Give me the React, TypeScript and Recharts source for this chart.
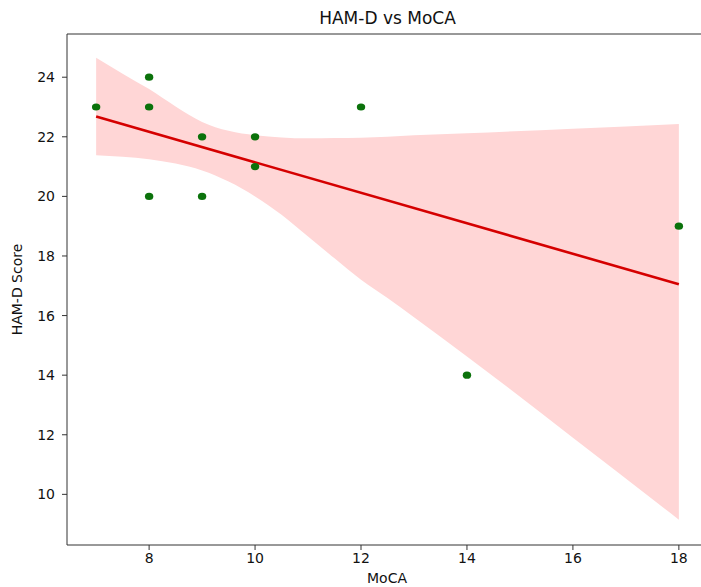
import React from "react";
import {
  ComposedChart,
  Area,
  Line,
  Scatter,
  XAxis,
  YAxis,
  ReferenceLine,
} from "recharts";

// Observed points (MoCA, HAM-D)
const mocaValues = [7, 8, 8, 8, 9, 9, 10, 10, 12, 14, 18];
const hamdValues = [23, 24, 23, 20, 22, 20, 22, 21, 23, 14, 19];

// Confidence band
const bandX = [7, 7.5, 8, 8.5, 9, 9.5, 10, 10.5, 11, 11.5, 12, 12.5, 13, 14, 16, 18];
const bandLower = [21.38, 21.33, 21.25, 21.1, 20.87, 20.5, 20.0, 19.38, 18.65, 17.92, 17.2, 16.59, 15.94, 14.63, 11.9, 9.15];
const bandUpper = [24.65, 24.12, 23.6, 23.02, 22.5, 22.2, 22.05, 21.98, 21.95, 21.96, 21.97, 22.0, 22.05, 22.12, 22.27, 22.43];

// Regression line endpoints
const fitX = [7, 18];
const fitY = [22.68, 17.05];

const xTicks = [8, 10, 12, 14, 16, 18];
const yTicks = [10, 12, 14, 16, 18, 20, 22, 24];

const xDomain: [number, number] = [6.45, 18.55];
const yDomain: [number, number] = [8.3, 25.45];

const scatterData = mocaValues.map((x, i) => ({ x, y: hamdValues[i] }));
const bandData = bandX.map((x, i) => ({ x, range: [bandLower[i], bandUpper[i]] }));
const fitData = fitX.map((x, i) => ({ x, fit: fitY[i] }));

const FONT = "'DejaVu Sans', sans-serif";

const Dot = (props: any) => {
  const { cx, cy } = props;
  if (cx == null || cy == null) return null;
  return <ellipse cx={cx} cy={cy} rx={4.2} ry={3.6} fill="#0b720b" />;
};

export default function App() {
  return (
    <div
      style={{
        position: "absolute",
        left: 0,
        top: 0,
        width: 701,
        height: 587,
        overflow: "hidden",
        background: "#fff",
      }}
    >
      <div
        style={{
          position: "absolute",
          left: 67,
          width: 641,
          top: 8,
          lineHeight: "20px",
          textAlign: "center",
          fontFamily: FONT,
          fontSize: 17,
          color: "#111",
        }}
      >
        HAM-D vs MoCA
      </div>
      <ComposedChart
        width={710}
        height={587}
        margin={{ top: 34, right: 2, left: 0, bottom: 0 }}
        style={{ position: "absolute", left: 0, top: 0 }}
      >
        <XAxis
          type="number"
          dataKey="x"
          domain={xDomain}
          ticks={xTicks}
          allowDataOverflow
          height={42}
          tickSize={5}
          tickMargin={3}
          stroke="#333"
          tick={{ fill: "#111", fontSize: 14, fontFamily: FONT }}
          label={{
            content: () => (
              <text
                x={387}
                y={583}
                textAnchor="middle"
                fontFamily={FONT}
                fontSize={14}
                fill="#111"
              >
                MoCA
              </text>
            ),
          }}
        />
        <YAxis
          type="number"
          domain={yDomain}
          ticks={yTicks}
          allowDataOverflow
          width={67}
          tickSize={5}
          tickMargin={7}
          stroke="#333"
          tick={{ fill: "#111", fontSize: 14, fontFamily: FONT }}
          label={{
            content: (p: any) => {
              const vb = p.viewBox || { y: 34, height: 511 };
              const cy = vb.y + vb.height / 2;
              return (
                <text
                  x={17}
                  y={cy}
                  transform={`rotate(-90, 17, ${cy})`}
                  textAnchor="middle"
                  dominantBaseline="central"
                  fontFamily={FONT}
                  fontSize={14}
                  fill="#111"
                >
                  HAM-D Score
                </text>
              );
            },
          }}
        />
        <ReferenceLine y={yDomain[1]} stroke="#333" strokeWidth={1} ifOverflow="visible" />
        <Area
          data={bandData}
          dataKey="range"
          type="monotone"
          stroke="none"
          fill="#ffd6d6"
          fillOpacity={1}
          isAnimationActive={false}
          activeDot={false}
          dot={false}
        />
        <Line
          data={fitData}
          dataKey="fit"
          type="linear"
          stroke="#d50000"
          strokeWidth={2.6}
          dot={false}
          activeDot={false}
          isAnimationActive={false}
        />
        <Scatter
          data={scatterData}
          dataKey="y"
          shape={<Dot />}
          isAnimationActive={false}
        />
      </ComposedChart>
    </div>
  );
}
